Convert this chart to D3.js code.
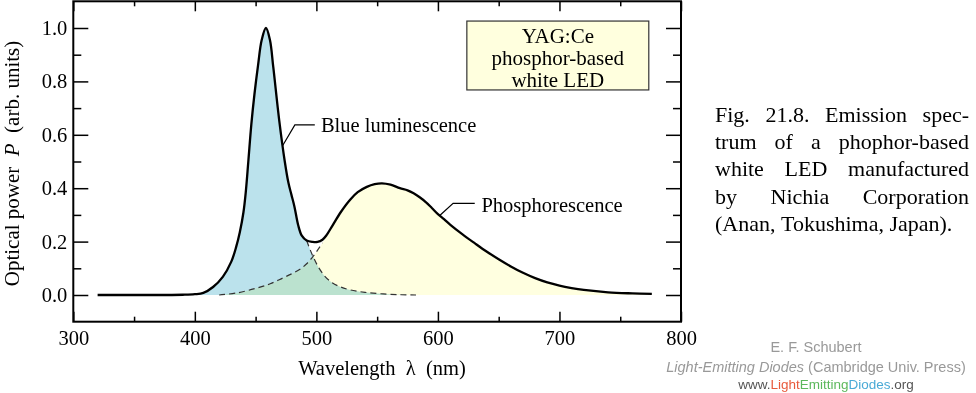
<!DOCTYPE html>
<html>
<head>
<meta charset="utf-8">
<script src="https://cdn.jsdelivr.net/npm/d3@7"></script>
<style>
  body { margin: 0; background: #fff; }
  svg { display: block; }
  .serif { font-family: "Liberation Serif", "Times New Roman", serif; }
  .sans { font-family: "Liberation Sans", Arial, sans-serif; }
</style>
</head>
<body>
<div id="chart"></div>
<script>
// measured spectrum (total emission, solid line)
const totalWl = [320, 360, 390, 400, 407, 415, 423, 430, 434, 437, 440, 442, 444, 446.5, 449, 452, 455, 458.5, 461.8, 464.5, 469.4, 474, 477, 479.5, 482, 485, 488, 492, 497, 501, 505, 508, 513.5, 520, 527.6, 534, 541.5, 548, 554, 561, 568.7, 575, 580, 585, 590, 595, 600, 605, 610, 620, 630, 640, 650, 660, 670, 680, 690, 700, 710, 720, 740, 760, 776]
const totalVal = [0, 0, 0.001, 0.003, 0.008, 0.03, 0.068, 0.125, 0.18, 0.235, 0.31, 0.39, 0.5, 0.64, 0.75, 0.86, 0.955, 1.0, 0.955, 0.855, 0.655, 0.5, 0.42, 0.375, 0.33, 0.262, 0.222, 0.204, 0.199, 0.199, 0.207, 0.222, 0.262, 0.31, 0.356, 0.385, 0.405, 0.415, 0.418, 0.413, 0.4, 0.392, 0.381, 0.366, 0.348, 0.326, 0.303, 0.284, 0.264, 0.228, 0.195, 0.163, 0.134, 0.107, 0.083, 0.063, 0.047, 0.035, 0.026, 0.019, 0.01, 0.006, 0.004]

// blue luminescence tail (dashed), leaves the total at ~490 nm
const blueTailWl = [492, 495, 498, 502, 507, 513, 520, 528, 540, 555, 570, 582]
const blueTailVal = [0.204, 0.168, 0.137, 0.102, 0.07, 0.046, 0.03, 0.019, 0.01, 0.004, 0.001, 0]

// phosphorescence rise (dashed), joins the total at ~508 nm
const phosRiseWl = [420, 435, 451, 462, 472.5, 480, 486.5, 492, 497, 501, 505]
const phosRiseVal = [0, 0.008, 0.026, 0.042, 0.064, 0.08, 0.096, 0.117, 0.143, 0.168, 0.195]

const xMajor = [300, 400, 500, 600, 700, 800]
const xMinor = [350, 450, 550, 650, 750]
const yMajor = [0, 0.2, 0.4, 0.6, 0.8, 1.0]
const yMinor = [0.1, 0.3, 0.5, 0.7, 0.9]

const boxLines = ['YAG:Ce', 'phosphor-based', 'white LED']
const captionLines = [
  'Fig. 21.8. Emission spec-',
  'trum of a phophor-based',
  'white LED manufactured',
  'by Nichia Corporation',
  '(Anan, Tokushima, Japan).'
]

const width = 976
const height = 393

const svg = d3.select('#chart')
  .append('svg')
  .attr('width', width)
  .attr('height', height)

const x = d3.scaleLinear().domain([300, 800]).range([73.3, 681])
const y = d3.scaleLinear().domain([-0.1, 1.1]).range([321.7, 1.3])

const pts = (wl, val) => wl.map((d, i) => [d, val[i]])
const total = pts(totalWl, totalVal)
const blueComp = total.filter(d => d[0] >= 398 && d[0] <= 490).concat(pts(blueTailWl, blueTailVal))
const phosComp = pts(phosRiseWl, phosRiseVal).concat(total.filter(d => d[0] >= 508))

const curve = d3.curveCatmullRom.alpha(0.5)
const area = d3.area().x(d => x(d[0])).y0(y(0)).y1(d => y(d[1])).curve(curve)
const line = d3.line().x(d => x(d[0])).y(d => y(d[1])).curve(curve)

// fills, overlap shows through as green
svg.append('path')
  .attr('d', area(blueComp))
  .attr('fill', '#bbe2ec')
svg.append('path')
  .attr('d', area(phosComp))
  .attr('fill', '#ffffe0')
  .style('mix-blend-mode', 'multiply')

// dashed components
const dashed = data => svg.append('path')
  .attr('d', line(data))
  .attr('fill', 'none')
  .attr('stroke', '#333')
  .attr('stroke-width', 1.2)
  .attr('stroke-dasharray', '6,4')
dashed(pts(blueTailWl, blueTailVal))
dashed(pts(phosRiseWl, phosRiseVal))

// total spectrum
svg.append('path')
  .attr('d', line(total))
  .attr('fill', 'none')
  .attr('stroke', '#000')
  .attr('stroke-width', 2.3)
  .attr('stroke-linejoin', 'round')

// axes (inward ticks on all four sides)
const axisStyle = g => {
  g.select('.domain').remove()
  g.selectAll('.tick line').attr('stroke', '#000').attr('stroke-width', 1.5)
  g.selectAll('text').attr('class', 'serif').attr('font-size', 20.5).attr('fill', '#000')
}
svg.append('g').attr('transform', `translate(0,${y(-0.1)})`)
  .call(d3.axisBottom(x).tickValues(xMajor).tickSize(-10).tickPadding(9).tickFormat(d3.format('d')))
  .call(axisStyle)
svg.append('g').attr('transform', `translate(0,${y(-0.1)})`)
  .call(d3.axisBottom(x).tickValues(xMinor).tickSize(-5).tickFormat(''))
  .call(axisStyle)
svg.append('g').attr('transform', `translate(0,${y(1.1)})`)
  .call(d3.axisTop(x).tickValues(xMajor).tickSize(-10).tickFormat(''))
  .call(axisStyle)
svg.append('g').attr('transform', `translate(0,${y(1.1)})`)
  .call(d3.axisTop(x).tickValues(xMinor).tickSize(-5).tickFormat(''))
  .call(axisStyle)
svg.append('g').attr('transform', `translate(${x(300)},0)`)
  .call(d3.axisLeft(y).tickValues(yMajor).tickSize(-15).tickPadding(6).tickFormat(d3.format('.1f')))
  .call(axisStyle)
svg.append('g').attr('transform', `translate(${x(300)},0)`)
  .call(d3.axisLeft(y).tickValues(yMinor).tickSize(-8).tickFormat(''))
  .call(axisStyle)
svg.append('g').attr('transform', `translate(${x(800)},0)`)
  .call(d3.axisRight(y).tickValues(yMajor).tickSize(-15).tickFormat(''))
  .call(axisStyle)
svg.append('g').attr('transform', `translate(${x(800)},0)`)
  .call(d3.axisRight(y).tickValues(yMinor).tickSize(-8).tickFormat(''))
  .call(axisStyle)

// frame
svg.append('rect')
  .attr('x', x(300)).attr('y', y(1.1))
  .attr('width', x(800) - x(300)).attr('height', y(-0.1) - y(1.1))
  .attr('fill', 'none').attr('stroke', '#000').attr('stroke-width', 2)

// axis titles
svg.append('text')
  .attr('class', 'serif')
  .attr('x', 382).attr('y', 375)
  .attr('text-anchor', 'middle').attr('font-size', 20.5)
  .text('Wavelength\u2002\u03bb\u2002(nm)')
const yTitle = svg.append('text')
  .attr('class', 'serif')
  .attr('transform', 'translate(19,163.5) rotate(-90)')
  .attr('text-anchor', 'middle').attr('font-size', 21)
yTitle.append('tspan').text('Optical power\u2002')
yTitle.append('tspan').attr('font-style', 'italic').text('P')
yTitle.append('tspan').text('\u2002(arb. units)')

// annotations with leader lines
const notes = [
  { label: 'Blue luminescence', at: [472.3, 0.56], elbow: [482.3, 0.637], end: 498.7, tx: 503.7, ty: 0.612 },
  { label: 'Phosphorescence', at: [601.5, 0.298], elbow: [612.5, 0.343], end: 630.3, tx: 635.8, ty: 0.312 }
]
notes.forEach(n => {
  svg.append('path')
    .attr('d', `M${x(n.at[0])},${y(n.at[1])}L${x(n.elbow[0])},${y(n.elbow[1])}L${x(n.end)},${y(n.elbow[1])}`)
    .attr('fill', 'none').attr('stroke', '#000').attr('stroke-width', 1.2)
  svg.append('text')
    .attr('class', 'serif')
    .attr('x', x(n.tx)).attr('y', y(n.ty))
    .attr('font-size', 20.5)
    .text(n.label)
})

// legend box
const bx0 = x(623.8), bx1 = x(773.5), by0 = y(1.026), by1 = y(0.768)
svg.append('rect')
  .attr('x', bx0).attr('y', by0)
  .attr('width', bx1 - bx0).attr('height', by1 - by0)
  .attr('fill', '#ffffde').attr('stroke', '#333').attr('stroke-width', 1.2)
svg.append('g').selectAll('text')
  .data(boxLines)
  .enter()
    .append('text')
    .attr('class', 'serif')
    .attr('x', (bx0 + bx1) / 2)
    .attr('y', (d, i) => 43 + i * 21.8)
    .attr('text-anchor', 'middle')
    .attr('font-size', 21)
    .text(d => d)

// justified caption
const capLeft = 715, capRight = 969
captionLines.forEach((ln, i) => {
  const words = ln.split(' ')
  const g = svg.append('g')
  const texts = words.map(w => g.append('text')
    .attr('class', 'serif').attr('font-size', 22)
    .attr('y', 121.5 + i * 27.4).text(w))
  const widths = texts.map(t => t.node().getComputedTextLength())
  const last = i === captionLines.length - 1
  const gap = last ? 5.5 : (capRight - capLeft - d3.sum(widths)) / (words.length - 1)
  let cx = capLeft
  texts.forEach((t, j) => {
    t.attr('x', cx)
    cx += widths[j] + gap
  })
})

// credits
svg.append('text').attr('class', 'sans')
  .attr('x', 816).attr('y', 352).attr('text-anchor', 'middle')
  .attr('font-size', 14.5).attr('fill', '#999')
  .text('E. F. Schubert')
const c2 = svg.append('text').attr('class', 'sans')
  .attr('x', 816).attr('y', 372).attr('text-anchor', 'middle')
  .attr('font-size', 14.5).attr('fill', '#999')
c2.append('tspan').attr('font-style', 'italic').text('Light-Emitting Diodes')
c2.append('tspan').text(' (Cambridge Univ. Press)')
const c3 = svg.append('text').attr('class', 'sans')
  .attr('x', 826).attr('y', 389).attr('text-anchor', 'middle')
  .attr('font-size', 13.5).attr('fill', '#555')
c3.append('tspan').text('www.')
c3.append('tspan').attr('fill', '#e85a3c').text('Light')
c3.append('tspan').attr('fill', '#5cb85c').text('Emitting')
c3.append('tspan').attr('fill', '#4aaad6').text('Diodes')
c3.append('tspan').text('.org')
</script>
</body>
</html>
